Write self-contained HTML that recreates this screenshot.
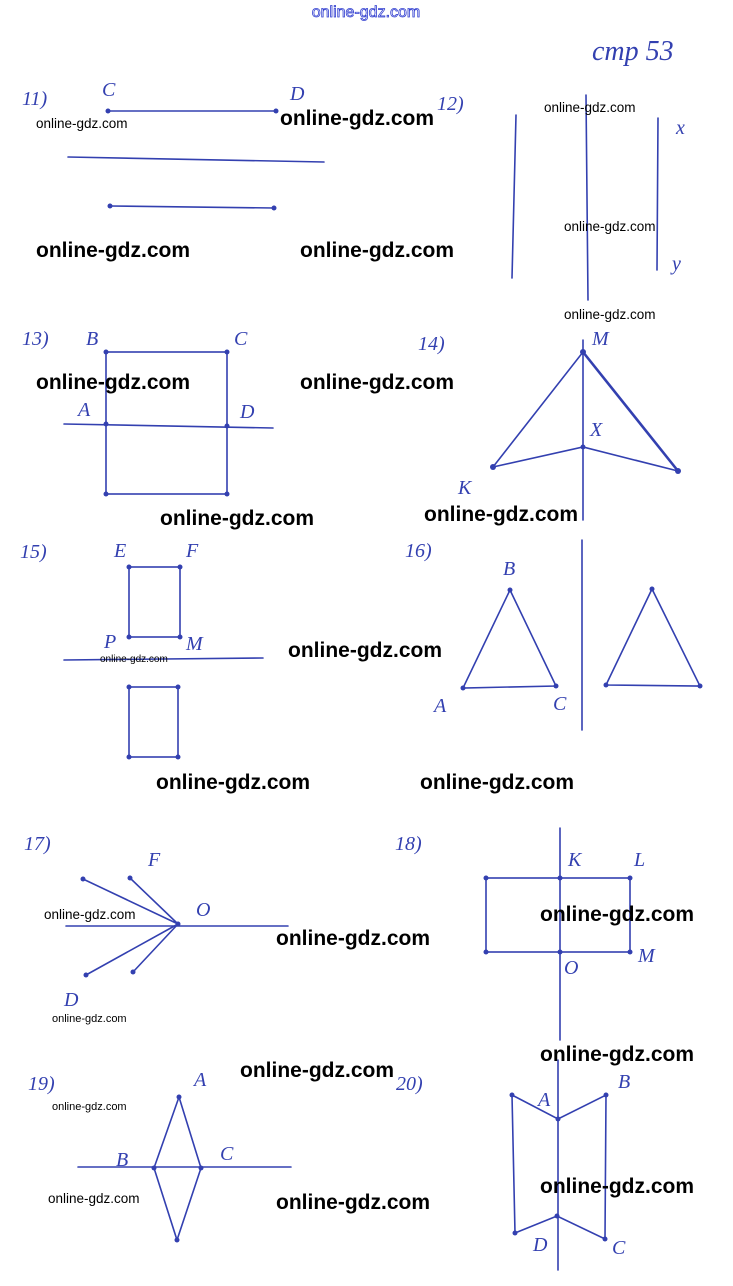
<!DOCTYPE html>
<html><head><meta charset="utf-8"><style>
html,body{margin:0;padding:0;background:#fff;}
svg{display:block;}
.l{stroke:#3340b0;stroke-width:1.6;fill:none;stroke-linecap:round;}
.t{fill:#3340b0;font-family:"Liberation Serif",serif;font-style:italic;font-size:20px;}
.w{fill:#000;font-family:"Liberation Sans",sans-serif;font-weight:bold;font-size:21px;}
.s{fill:#000;font-family:"Liberation Sans",sans-serif;font-size:13.5px;}
</style></head><body>
<svg width="733" height="1286" viewBox="0 0 733 1286" xmlns="http://www.w3.org/2000/svg">
<text x="366" y="17" text-anchor="middle" style="font-family:'Liberation Sans',sans-serif;font-size:16px;fill:#fff;stroke:#3340d0;stroke-width:0.8">online-gdz.com</text>
<text x="592" y="60" class="t" style="font-size:28px">стр 53</text>
<g fill="#3340b0">
<text x="22" y="105" class="t">11)</text><text x="102" y="96" class="t">C</text><text x="290" y="100" class="t">D</text>
<line class="l" x1="108" y1="111" x2="276" y2="111"/><circle cx="108" cy="111" r="2.5"/><circle cx="276" cy="111" r="2.5"/>
<line class="l" x1="68" y1="157" x2="324" y2="162"/>
<line class="l" x1="110" y1="206" x2="274" y2="208"/><circle cx="110" cy="206" r="2.5"/><circle cx="274" cy="208" r="2.5"/>
<text x="437" y="110" class="t">12)</text>
<line class="l" x1="516" y1="115" x2="512" y2="278"/><line class="l" x1="586" y1="95" x2="588" y2="300"/><line class="l" x1="658" y1="118" x2="657" y2="270"/>
<text x="676" y="134" class="t">x</text><text x="672" y="270" class="t">y</text>
<text x="22" y="345" class="t">13)</text><text x="86" y="345" class="t">B</text><text x="234" y="345" class="t">C</text><text x="78" y="416" class="t">A</text><text x="240" y="418" class="t">D</text>
<rect class="l" x="106" y="352" width="121" height="142"/>
<line class="l" x1="64" y1="424" x2="273" y2="428"/>
<circle cx="106" cy="352" r="2.5"/><circle cx="227" cy="352" r="2.5"/><circle cx="106" cy="424" r="2.5"/><circle cx="227" cy="426" r="2.5"/><circle cx="106" cy="494" r="2.5"/><circle cx="227" cy="494" r="2.5"/>
<text x="418" y="350" class="t">14)</text><text x="592" y="345" class="t">M</text><text x="590" y="436" class="t">X</text><text x="458" y="494" class="t">K</text>
<line class="l" x1="583" y1="340" x2="583" y2="520"/>
<polyline class="l" points="493,467 583,352 678,471"/><line x1="583" y1="352" x2="678" y2="471" stroke="#3340b0" stroke-width="2.6"/>
<polyline class="l" points="493,467 583,447 678,471"/>
<circle cx="583" cy="352" r="3"/><circle cx="583" cy="447" r="2.5"/><circle cx="493" cy="467" r="3"/><circle cx="678" cy="471" r="3"/>
<text x="20" y="558" class="t">15)</text><text x="114" y="557" class="t">E</text><text x="186" y="557" class="t">F</text><text x="104" y="648" class="t">P</text><text x="186" y="650" class="t">M</text>
<rect class="l" x="129" y="567" width="51" height="70"/>
<line class="l" x1="64" y1="660" x2="263" y2="658"/>
<rect class="l" x="129" y="687" width="49" height="70"/>
<circle cx="129" cy="567" r="2.5"/><circle cx="180" cy="567" r="2.5"/><circle cx="129" cy="637" r="2.5"/><circle cx="180" cy="637" r="2.5"/>
<circle cx="129" cy="687" r="2.5"/><circle cx="178" cy="687" r="2.5"/><circle cx="129" cy="757" r="2.5"/><circle cx="178" cy="757" r="2.5"/>
<text x="405" y="557" class="t">16)</text><text x="503" y="575" class="t">B</text><text x="434" y="712" class="t">A</text><text x="553" y="710" class="t">C</text>
<polygon class="l" points="510,590 463,688 556,686"/>
<line class="l" x1="582" y1="540" x2="582" y2="730"/>
<polygon class="l" points="652,589 606,685 700,686"/>
<circle cx="510" cy="590" r="2.5"/><circle cx="463" cy="688" r="2.5"/><circle cx="556" cy="686" r="2.5"/><circle cx="652" cy="589" r="2.5"/><circle cx="606" cy="685" r="2.5"/><circle cx="700" cy="686" r="2.5"/>
<text x="24" y="850" class="t">17)</text><text x="148" y="866" class="t">F</text><text x="196" y="916" class="t">O</text><text x="64" y="1006" class="t">D</text>
<line class="l" x1="66" y1="926" x2="288" y2="926"/>
<polyline class="l" points="83,879 178,924 130,878"/><polyline class="l" points="86,975 178,924 133,972"/>
<circle cx="83" cy="879" r="2.5"/><circle cx="130" cy="878" r="2.5"/><circle cx="86" cy="975" r="2.5"/><circle cx="133" cy="972" r="2.5"/><circle cx="178" cy="924" r="2.5"/>
<text x="395" y="850" class="t">18)</text><text x="568" y="866" class="t">K</text><text x="634" y="866" class="t">L</text><text x="564" y="974" class="t">O</text><text x="638" y="962" class="t">M</text>
<line class="l" x1="560" y1="828" x2="560" y2="1040"/>
<rect class="l" x="486" y="878" width="144" height="74"/>
<circle cx="486" cy="878" r="2.5"/><circle cx="560" cy="878" r="2.5"/><circle cx="630" cy="878" r="2.5"/><circle cx="486" cy="952" r="2.5"/><circle cx="560" cy="952" r="2.5"/><circle cx="630" cy="952" r="2.5"/>
<text x="28" y="1090" class="t">19)</text><text x="194" y="1086" class="t">A</text><text x="116" y="1166" class="t">B</text><text x="220" y="1160" class="t">C</text>
<line class="l" x1="78" y1="1167" x2="291" y2="1167"/>
<polygon class="l" points="179,1097 201,1168 177,1240 154,1168"/>
<circle cx="179" cy="1097" r="2.5"/><circle cx="154" cy="1168" r="2.5"/><circle cx="201" cy="1168" r="2.5"/><circle cx="177" cy="1240" r="2.5"/>
<text x="396" y="1090" class="t">20)</text><text x="538" y="1106" class="t">A</text><text x="618" y="1088" class="t">B</text><text x="533" y="1251" class="t">D</text><text x="612" y="1254" class="t">C</text>
<line class="l" x1="558" y1="1060" x2="558" y2="1270"/>
<polyline class="l" points="515,1233 512,1095 558,1119 606,1095 605,1239 557,1216 515,1233"/>
<circle cx="512" cy="1095" r="2.5"/><circle cx="558" cy="1119" r="2.5"/><circle cx="606" cy="1095" r="2.5"/><circle cx="515" cy="1233" r="2.5"/><circle cx="557" cy="1216" r="2.5"/><circle cx="605" cy="1239" r="2.5"/>
</g>
<text class="s" x="36" y="128">online-gdz.com</text>
<text class="s" x="544" y="112">online-gdz.com</text>
<text class="s" x="564" y="231">online-gdz.com</text>
<text class="s" x="564" y="319">online-gdz.com</text>
<text class="s" x="100" y="662" style="font-size:10px">online-gdz.com</text>
<text class="s" x="44" y="919">online-gdz.com</text>
<text class="s" x="52" y="1022" style="font-size:11px">online-gdz.com</text>
<text class="s" x="52" y="1110" style="font-size:11px">online-gdz.com</text>
<text class="s" x="48" y="1203">online-gdz.com</text>
<text class="w" x="280" y="125">online-gdz.com</text>
<text class="w" x="36" y="257">online-gdz.com</text>
<text class="w" x="300" y="257">online-gdz.com</text>
<text class="w" x="36" y="389">online-gdz.com</text>
<text class="w" x="300" y="389">online-gdz.com</text>
<text class="w" x="160" y="525">online-gdz.com</text>
<text class="w" x="424" y="521">online-gdz.com</text>
<text class="w" x="288" y="657">online-gdz.com</text>
<text class="w" x="156" y="789">online-gdz.com</text>
<text class="w" x="420" y="789">online-gdz.com</text>
<text class="w" x="276" y="945">online-gdz.com</text>
<text class="w" x="540" y="921">online-gdz.com</text>
<text class="w" x="540" y="1061">online-gdz.com</text>
<text class="w" x="240" y="1077">online-gdz.com</text>
<text class="w" x="276" y="1209">online-gdz.com</text>
<text class="w" x="540" y="1193">online-gdz.com</text>
</svg>
</body></html>
